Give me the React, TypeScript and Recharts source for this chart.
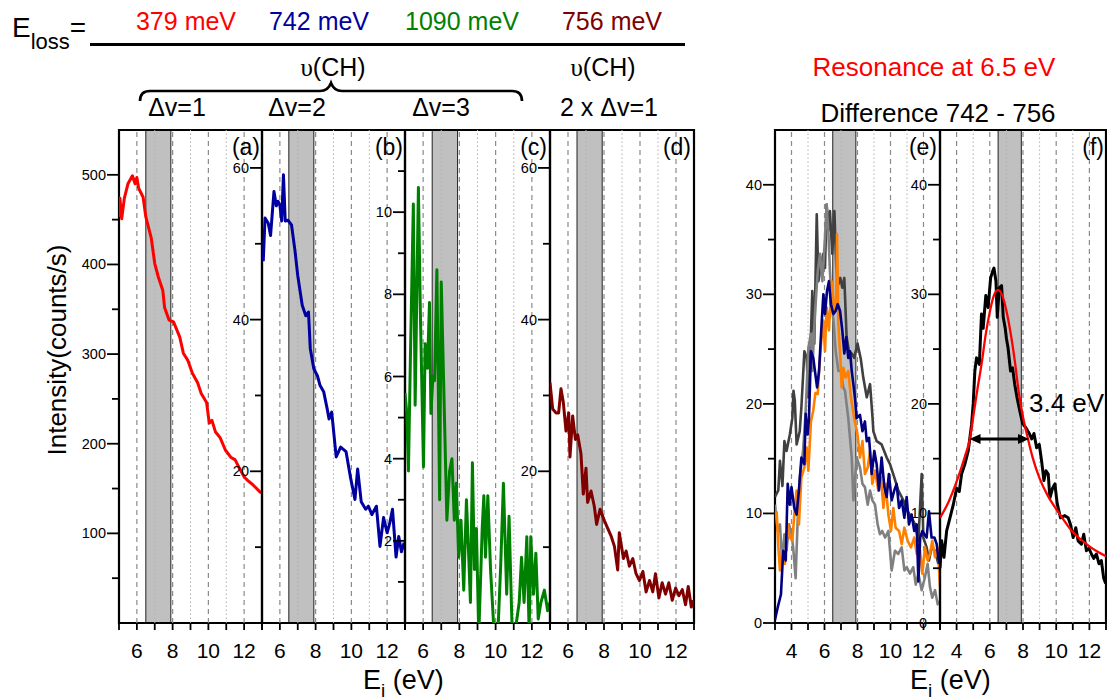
import React from 'react'
import { LineChart, Line, XAxis, YAxis, ReferenceArea, ReferenceLine } from 'recharts'

type Pt = [number, number]

// incident energy (eV), intensity (counts/s)
const SPEC_379: Pt[] = [
  [5.0, 453], [5.05, 474], [5.15, 451], [5.3, 474], [5.5, 490], [5.75, 499], [5.9, 490], [6.0, 497],
  [6.1, 485], [6.35, 475], [6.5, 453], [6.8, 430], [7.0, 401], [7.2, 386], [7.45, 371], [7.55, 352],
  [7.8, 338], [8.05, 336], [8.4, 319], [8.6, 301], [8.85, 293], [9.1, 279], [9.4, 268], [9.6, 256],
  [9.9, 246], [10.05, 223], [10.2, 226], [10.4, 213], [10.65, 207], [10.95, 193], [11.25, 185],
  [11.5, 182], [11.7, 174], [12.0, 163], [12.2, 159], [12.5, 154], [12.9, 146], [13.0, 145],
]

const SPEC_742: Pt[] = [
  [5.07, 47.7], [5.17, 53.4], [5.35, 52.7], [5.48, 51.1], [5.67, 56.9], [5.8, 55.0], [5.9, 55.6],
  [6.0, 55.1], [6.1, 53.0], [6.2, 59.1], [6.3, 53.0], [6.45, 53.1], [6.65, 52.5], [6.85, 49.0],
  [7.0, 45.8], [7.25, 41.9], [7.45, 40.5], [7.6, 41.0], [7.7, 36.2], [7.9, 33.5], [8.1, 32.6],
  [8.25, 31.3], [8.45, 30.5], [8.65, 28.2], [8.75, 26.9], [8.9, 27.8], [9.15, 21.9], [9.4, 23.2],
  [9.7, 22.6], [9.95, 19.2], [10.2, 16.3], [10.35, 20.3], [10.55, 16.0], [10.8, 15.0], [10.95, 15.4],
  [11.15, 14.3], [11.4, 15.4], [11.6, 10.1], [11.8, 13.9], [12.0, 11.9], [12.15, 13.2], [12.3, 15.0],
  [12.5, 8.7], [12.65, 11.4], [12.8, 9.4], [12.95, 10.6],
]

const SPEC_1090: Pt[] = [
  [5.0, 5.6], [5.1, 5.1], [5.19, 3.7], [5.3, 6.5], [5.46, 10.2], [5.56, 5.3], [5.74, 10.6], [5.85, 7.5],
  [6.02, 3.8], [6.11, 6.8], [6.24, 6.2], [6.35, 7.8], [6.43, 5.1], [6.54, 6.0], [6.63, 5.9], [6.76, 8.6],
  [6.91, 3.0], [7.0, 8.3], [7.13, 5.9], [7.31, 2.5], [7.46, 3.7], [7.59, 4.0], [7.72, 2.5], [7.83, 3.4],
  [7.96, 1.6], [8.09, 2.5], [8.24, 0.8], [8.39, 3.0], [8.5, 1.8], [8.61, 0.5], [8.72, 3.9], [8.83, 1.3],
  [8.94, 2.3], [9.07, -0.3], [9.26, 2.3], [9.35, 3.1], [9.44, 1.6], [9.57, 3.1], [9.72, 1.3], [9.91, -0.2],
  [10.1, -0.5], [10.28, 1.4], [10.43, 3.4], [10.61, 0.7], [10.74, 2.6], [10.93, -0.5], [11.11, -0.1],
  [11.3, 0.5], [11.43, 1.6], [11.57, 0.5], [11.72, 2.1], [11.85, -0.2], [11.94, 2.1], [12.09, 0.7],
  [12.22, 1.7], [12.35, 0.1], [12.5, 0.5], [12.69, 0.8], [12.87, 0.3], [13.0, 0.5],
]

const SPEC_756: Pt[] = [
  [5.0, 31.7], [5.15, 28.2], [5.34, 27.7], [5.48, 27.7], [5.61, 30.9], [5.74, 29.1], [5.89, 25.3],
  [6.04, 27.7], [6.11, 21.9], [6.26, 27.3], [6.41, 24.2], [6.54, 24.8], [6.72, 22.3], [6.85, 17.0],
  [7.0, 20.4], [7.09, 15.9], [7.28, 17.4], [7.46, 15.4], [7.59, 13.0], [7.78, 15.0], [8.02, 13.5],
  [8.2, 12.5], [8.39, 11.5], [8.58, 10.1], [8.76, 7.0], [8.85, 11.9], [9.08, 8.5], [9.23, 9.5],
  [9.41, 7.5], [9.6, 8.5], [9.78, 6.5], [9.97, 5.6], [10.16, 6.8], [10.34, 4.1], [10.53, 5.6],
  [10.71, 4.1], [10.86, 6.5], [11.05, 3.3], [11.23, 5.3], [11.42, 3.8], [11.6, 5.3], [11.79, 3.0],
  [11.98, 4.6], [12.16, 3.6], [12.35, 4.4], [12.53, 2.4], [12.68, 4.8], [12.85, 2.1], [12.95, 3.0],
]

// panel (e): differences 742 - 756 from several runs
const DIFF_DARK: Pt[] = [
  [3.0, 11.5], [3.2, 12.1], [3.3, 14.8], [3.45, 12.5], [3.57, 16.6], [3.7, 15.7], [3.9, 17.2], [4.05, 18.7],
  [4.12, 21.2], [4.2, 20.3], [4.31, 16.3], [4.5, 17.5], [4.6, 19.7], [4.78, 24.8], [4.92, 24.2], [5.02, 20.6],
  [5.1, 22.5], [5.26, 30.3], [5.38, 25.5], [5.53, 37.3], [5.63, 31.2], [5.79, 32.7], [5.93, 33.7], [6.03, 32.4],
  [6.13, 38.2], [6.23, 35.8], [6.33, 37.6], [6.47, 33.7], [6.6, 37.6], [6.72, 32.1], [6.84, 30.9], [6.96, 31.5],
  [7.08, 30.6], [7.2, 31.5], [7.34, 26.1], [7.48, 24.8], [7.65, 24.6], [7.8, 24.2], [8.0, 25.5], [8.2, 24.1],
  [8.35, 22.4], [8.56, 20.6], [8.76, 21.8], [8.9, 19.0], [8.96, 17.5], [9.16, 16.6], [9.46, 16.3], [9.77, 15.1],
  [9.97, 14.5], [10.23, 13.3], [10.47, 12.1], [10.78, 11.2], [11.04, 10.2], [11.28, 9.6], [11.49, 9.0],
  [11.69, 7.5], [11.89, 13.6], [11.99, 7.8], [12.19, 6.9], [12.33, 5.7], [12.49, 6.9], [12.7, 6.6], [12.9, 5.4],
]

const DIFF_GRAY: Pt[] = [
  [3.0, 10.8], [3.16, 8.4], [3.3, 9.0], [3.44, 5.4], [3.57, 8.1], [3.7, 6.6], [3.85, 9.0], [4.0, 8.1],
  [4.1, 6.9], [4.25, 4.1], [4.37, 9.3], [4.5, 13.3], [4.7, 15.7], [4.86, 19.4], [5.02, 25.1], [5.18, 26.4],
  [5.26, 23.0], [5.42, 28.2], [5.59, 32.1], [5.73, 33.7], [5.87, 31.2], [6.03, 35.2], [6.13, 38.2], [6.23, 35.8],
  [6.33, 32.1], [6.43, 29.1], [6.56, 27.3], [6.68, 24.8], [6.84, 23.0], [7.0, 23.0], [7.14, 21.5], [7.24, 21.2],
  [7.44, 18.7], [7.65, 15.1], [7.75, 11.2], [7.95, 15.1], [8.15, 14.2], [8.3, 12.7], [8.45, 12.4], [8.62, 10.8],
  [8.76, 12.1], [8.9, 11.2], [9.06, 10.8], [9.22, 9.0], [9.36, 8.1], [9.5, 8.4], [9.67, 7.8], [9.87, 8.4],
  [10.07, 4.8], [10.27, 6.6], [10.47, 6.3], [10.68, 6.9], [10.84, 4.8], [10.98, 5.1], [11.18, 4.5], [11.38, 5.1],
  [11.53, 3.5], [11.69, 4.5], [11.89, 3.0], [12.09, 4.2], [12.25, 5.4], [12.39, 3.3], [12.53, 2.3], [12.7, 3.0],
  [12.86, 1.7], [13.0, 2.0],
]

const DIFF_ORANGE: Pt[] = [
  [3.1, 10.2], [3.2, 7.0], [3.3, 4.8], [3.44, 6.6], [3.6, 5.4], [3.77, 9.0], [3.9, 7.8], [4.05, 7.5],
  [4.17, 9.9], [4.31, 12.1], [4.45, 9.0], [4.6, 13.3], [4.78, 14.2], [4.92, 16.0], [5.02, 13.9], [5.18, 18.4],
  [5.32, 19.4], [5.45, 21.0], [5.59, 20.9], [5.67, 23.0], [5.79, 25.5], [5.93, 27.6], [6.03, 24.8], [6.13, 28.8],
  [6.27, 26.7], [6.43, 31.2], [6.6, 28.5], [6.7, 29.1], [6.76, 35.5], [6.84, 27.3], [6.96, 24.2], [7.04, 21.5],
  [7.14, 23.3], [7.28, 22.4], [7.44, 23.0], [7.6, 20.6], [7.8, 18.7], [8.0, 17.2], [8.15, 15.1], [8.3, 16.6],
  [8.45, 13.6], [8.62, 14.2], [8.76, 15.7], [8.9, 12.7], [9.06, 13.9], [9.26, 12.1], [9.42, 13.3], [9.57, 10.5],
  [9.7, 12.7], [9.87, 9.9], [10.03, 8.4], [10.17, 10.5], [10.31, 8.7], [10.52, 8.4], [10.68, 7.2], [10.84, 8.7],
  [11.04, 7.5], [11.24, 6.9], [11.44, 7.8], [11.59, 6.3], [11.79, 6.6], [11.93, 4.5], [12.09, 6.9], [12.25, 5.7],
  [12.39, 6.3], [12.53, 7.5], [12.7, 6.0], [12.86, 6.9], [13.0, 3.3],
]

const DIFF_NAVY: Pt[] = [
  [3.0, 0.3], [3.16, 1.4], [3.36, 2.6], [3.5, 6.6], [3.65, 5.7], [3.77, 12.7], [3.9, 10.8], [4.0, 12.4],
  [4.17, 10.5], [4.31, 9.9], [4.45, 12.1], [4.6, 15.1], [4.78, 14.5], [4.86, 19.1], [4.98, 17.2], [5.06, 18.7],
  [5.18, 24.8], [5.32, 24.2], [5.42, 23.0], [5.55, 21.5], [5.67, 23.0], [5.79, 26.4], [5.93, 30.0], [6.03, 28.2],
  [6.15, 30.3], [6.27, 31.2], [6.39, 29.1], [6.54, 28.2], [6.68, 28.5], [6.8, 29.1], [6.94, 28.5], [7.08, 26.7],
  [7.2, 24.6], [7.32, 26.1], [7.44, 24.2], [7.55, 24.8], [7.65, 23.0], [7.75, 21.8], [7.85, 20.5], [7.95, 18.7],
  [8.15, 19.0], [8.3, 17.5], [8.45, 18.4], [8.56, 16.6], [8.7, 16.9], [8.86, 13.6], [9.02, 15.7], [9.16, 14.5],
  [9.3, 12.1], [9.46, 15.1], [9.63, 12.4], [9.77, 11.5], [9.9, 13.6], [10.07, 11.2], [10.23, 12.1], [10.37, 12.7],
  [10.52, 10.5], [10.68, 11.2], [10.84, 9.6], [10.98, 11.5], [11.12, 9.0], [11.28, 9.9], [11.44, 8.4], [11.59, 9.0],
  [11.69, 3.8], [11.8, 7.8], [11.93, 8.4], [12.05, 8.1], [12.19, 7.8], [12.33, 10.2], [12.49, 7.8], [12.66, 7.8],
  [12.8, 7.2], [12.94, 5.4],
]

// panel (f): averaged difference and its fit
const DIFF_MEAN: Pt[] = [
  [3.0, 5.0], [3.1, 7.5], [3.24, 6.0], [3.4, 8.4], [3.6, 9.6], [3.8, 10.8], [4.0, 12.3], [4.16, 12.0],
  [4.3, 13.6], [4.5, 14.5], [4.7, 15.7], [4.9, 18.1], [5.0, 20.0], [5.1, 23.0], [5.2, 24.2], [5.37, 23.6],
  [5.5, 28.2], [5.6, 26.9], [5.76, 29.9], [5.9, 28.8], [6.05, 31.5], [6.17, 32.1], [6.25, 32.4], [6.37, 31.2],
  [6.45, 27.9], [6.57, 30.6], [6.71, 30.8], [6.81, 27.9], [6.93, 26.9], [7.0, 26.0], [7.1, 25.1], [7.25, 23.0],
  [7.37, 23.3], [7.5, 21.8], [7.65, 20.5], [7.8, 19.4], [7.98, 18.2], [8.18, 17.8], [8.38, 17.3], [8.52, 16.8],
  [8.66, 17.3], [8.82, 16.0], [8.98, 16.3], [9.12, 14.8], [9.26, 13.0], [9.38, 13.9], [9.52, 13.6], [9.62, 11.4],
  [9.78, 12.3], [9.92, 12.7], [10.06, 10.9], [10.26, 9.6], [10.52, 9.8], [10.72, 9.6], [10.86, 9.0], [11.02, 7.8],
  [11.18, 8.7], [11.32, 7.5], [11.52, 7.2], [11.66, 8.1], [11.82, 6.6], [11.98, 6.8], [12.12, 6.3], [12.26, 5.9],
  [12.42, 6.3], [12.58, 5.4], [12.72, 5.7], [12.86, 4.1], [12.98, 3.6],
]

const FIT_MEAN: Pt[] = [
  [3.0, 9.6], [3.5, 11.0], [4.0, 12.9], [4.5, 15.2], [4.8, 16.8], [5.0, 18.8], [5.25, 21.3], [5.5, 23.6],
  [5.75, 26.3], [6.0, 28.4], [6.25, 29.9], [6.5, 30.4], [6.75, 29.9], [7.0, 28.5], [7.25, 26.5], [7.5, 24.0],
  [7.75, 21.0], [8.0, 18.8], [8.3, 16.8], [8.6, 15.0], [9.0, 13.2], [9.5, 11.6], [10.0, 10.4], [10.5, 9.3],
  [11.0, 8.3], [11.5, 7.6], [12.0, 7.0], [12.5, 6.5], [13.0, 6.1],
]

const FWHM: Pt[] = [[4.78, 16.8], [8.36, 16.8]]
const RESONANCE_BAND = [6.5, 7.9]

const X_TICKS_AD = [5, 6, 7, 8, 9, 10, 11, 12, 13]
const X_LABELS_AD = [6, 8, 10, 12]
const X_TICKS_EF = [3, 4, 5, 6, 7, 8, 9, 10, 11, 12, 13]
const X_LABELS_EF = [4, 6, 8, 10, 12]
const DASHED_AD = [6, 8, 10, 12]
const DOTTED_AD = [7, 9, 11]
const DASHED_EF = [4, 6, 8, 10, 12]
const DOTTED_EF = [5, 7, 9, 11]

const FONT = 'Arial, "Liberation Sans", sans-serif'
const PLOT_TOP = 130
const PLOT_H = 493

function xTick(labels: number[]) {
  return (p: any) => {
    const v = p.payload.value
    return (
      <g>
        <line x1={p.x} x2={p.x} y1={p.y} y2={p.y + 7} stroke="#000" strokeWidth={1.8} />
        {labels.includes(v) && (
          <text x={p.x} y={p.y + 35} textAnchor="middle" fontSize={21} fontFamily={FONT} fill="#000">{v}</text>
        )}
      </g>
    )
  }
}

function yTick(labels: number[]) {
  return (p: any) => {
    const v = p.payload.value
    const major = labels.includes(v)
    const len = major ? 12 : 7
    return (
      <g>
        <line x1={p.x - len} x2={p.x} y1={p.y} y2={p.y} stroke="#000" strokeWidth={1.8} />
        {major && (
          <text x={p.x - len - 1} y={p.y + 5} textAnchor="end" fontSize={14.5} fontFamily={FONT} fill="#000">{v}</text>
        )}
      </g>
    )
  }
}

const rightTick = (p: any) => (
  <line x1={p.x - 5} x2={p.x} y1={p.y} y2={p.y} stroke="#000" strokeWidth={1.5} />
)

const ArrowShape = (p: any) => {
  const { x1, y1, x2, y2 } = p
  const h = 11
  const w = 5
  return (
    <g>
      <line x1={x1 + h - 2} y1={y1} x2={x2 - h + 2} y2={y2} stroke="#000" strokeWidth={3} />
      <polygon points={`${x1},${y1} ${x1 + h},${y1 - w} ${x1 + h},${y1 + w}`} fill="#000" />
      <polygon points={`${x2},${y2} ${x2 - h},${y2 - w} ${x2 - h},${y2 + w}`} fill="#000" />
    </g>
  )
}

interface Series {
  name: string
  data: Pt[]
  color: string
  width?: number
  smooth?: boolean
}

interface PanelProps {
  left: number
  width: number
  xDomain: [number, number]
  yDomain: [number, number]
  xTicks: number[]
  xLabels: number[]
  dashed: number[]
  dotted: number[]
  yLabels: number[]
  yMinor: number[]
  rightTicks?: number[]
  series: Series[]
  arrow?: Pt[]
}

function Panel(p: PanelProps) {
  const YW = 50
  const TOP = 10
  const RP = 10
  const XH = 45
  const [x0, x1] = p.xDomain
  const [y0, y1] = p.yDomain
  return (
    <div style={{ position: 'absolute', left: p.left - YW, top: PLOT_TOP - TOP }}>
      <LineChart width={YW + p.width + RP} height={TOP + PLOT_H + XH} margin={{ top: TOP, right: RP, bottom: 0, left: 0 }}>
        <XAxis
          type="number"
          dataKey="e"
          domain={p.xDomain}
          allowDataOverflow
          ticks={p.xTicks}
          interval={0}
          tickSize={0}
          tickMargin={0}
          axisLine={false}
          tickLine={false}
          tick={xTick(p.xLabels)}
          height={XH}
        />
        <YAxis
          type="number"
          domain={p.yDomain}
          allowDataOverflow
          ticks={[...p.yLabels, ...p.yMinor]}
          interval={0}
          tickSize={0}
          tickMargin={0}
          axisLine={false}
          tickLine={false}
          tick={yTick(p.yLabels)}
          width={YW}
        />
        {p.rightTicks && (
          <YAxis
            yAxisId="r"
            orientation="right"
            type="number"
            domain={p.yDomain}
            allowDataOverflow
            ticks={p.rightTicks}
            interval={0}
            tickSize={0}
            tickMargin={0}
            axisLine={false}
            tickLine={false}
            tick={rightTick}
            width={0}
          />
        )}
        {p.dotted.map((v) => (
          <ReferenceLine key={'o' + v} x={v} stroke="#b0b0b0" strokeDasharray="1.5 2.5" strokeWidth={1} />
        ))}
        {p.dashed.map((v) => (
          <ReferenceLine key={'d' + v} x={v} stroke="#8a8a8a" strokeDasharray="5 4" strokeWidth={1.2} />
        ))}
        <ReferenceArea
          x1={RESONANCE_BAND[0]}
          x2={RESONANCE_BAND[1]}
          y1={y0}
          y2={y1}
          fill="#c0c0c0"
          fillOpacity={1}
          stroke="#222"
          strokeWidth={1}
        />
        {p.series.map((s) => (
          <Line
            key={s.name}
            name={s.name}
            data={s.data.map(([e, v]) => ({ e, v }))}
            dataKey="v"
            type={s.smooth ? 'monotone' : 'linear'}
            stroke={s.color}
            strokeWidth={s.width ?? 3}
            strokeLinejoin="round"
            dot={false}
            activeDot={false}
            isAnimationActive={false}
          />
        ))}
        {p.arrow && (
          <ReferenceLine
            segment={p.arrow.map(([x, y]) => ({ x, y }))}
            shape={ArrowShape}
          />
        )}
        <ReferenceArea x1={x0} x2={x1} y1={y0} y2={y1} fill="none" stroke="#000" strokeWidth={2.2} />
      </LineChart>
    </div>
  )
}

const Txt = ({ x, y, size, color = '#000', anchor = 'left', family = FONT, children }: any) => (
  <div
    style={{
      position: 'absolute',
      left: x,
      top: y,
      fontSize: size,
      color,
      fontFamily: family,
      lineHeight: 1,
      whiteSpace: 'nowrap',
      transform: anchor === 'center' ? 'translateX(-50%)' : anchor === 'right' ? 'translateX(-100%)' : undefined,
    }}
  >
    {children}
  </div>
)

const Upsilon = () => <span style={{ fontFamily: '"Liberation Serif", "DejaVu Serif", serif' }}>υ</span>

export default function App() {
  const common = { yDomain: [0, 65] as [number, number], yLabels: [20, 40, 60], yMinor: [10, 30, 50] }
  const ad = { xDomain: [5, 13] as [number, number], xTicks: X_TICKS_AD, xLabels: X_LABELS_AD, dashed: DASHED_AD, dotted: DOTTED_AD }
  const ef = {
    xDomain: [3, 13] as [number, number],
    xTicks: X_TICKS_EF,
    xLabels: X_LABELS_EF,
    dashed: DASHED_EF,
    dotted: DOTTED_EF,
    yDomain: [0, 45] as [number, number],
    yLabels: [0, 10, 20, 30, 40],
    yMinor: [5, 15, 25, 35],
  }
  return (
    <div style={{ position: 'absolute', left: 0, top: 0, width: 1107, height: 700, overflow: 'hidden', background: '#fff', fontFamily: FONT }}>
      <Panel left={119} width={143} {...ad} yDomain={[0, 550]} yLabels={[100, 200, 300, 400, 500]} yMinor={[50, 150, 250, 350, 450]}
        series={[{ name: '379', data: SPEC_379, color: '#ff0000' }]} />
      <Panel left={262} width={143} {...ad} {...common} series={[{ name: '742', data: SPEC_742, color: '#0000a0' }]} />
      <Panel left={405} width={145} {...ad} yDomain={[0, 12]} yLabels={[2, 4, 6, 8, 10]} yMinor={[1, 3, 5, 7, 9, 11]}
        series={[{ name: '1090', data: SPEC_1090, color: '#008000' }]} />
      <Panel left={550} width={144} {...ad} {...common} rightTicks={[10, 20, 30, 40, 50, 60]}
        series={[{ name: '756', data: SPEC_756, color: '#800000' }]} />
      <Panel left={775} width={165} {...ef}
        series={[
          { name: 'dark', data: DIFF_DARK, color: '#404040', width: 2.6 },
          { name: 'gray', data: DIFF_GRAY, color: '#808080', width: 2.6 },
          { name: 'orange', data: DIFF_ORANGE, color: '#ff8000', width: 2.6 },
          { name: 'navy', data: DIFF_NAVY, color: '#000080', width: 2.6 },
        ]} />
      <Panel left={940} width={166} {...ef} rightTicks={[5, 10, 15, 20, 25, 30, 35, 40]} arrow={FWHM}
        series={[
          { name: 'mean', data: DIFF_MEAN, color: '#000000', width: 3 },
          { name: 'fit', data: FIT_MEAN, color: '#ff0000', width: 2.3, smooth: true },
        ]} />

      {/* header */}
      <Txt x={12} y={14} size={28}>
        E<span style={{ fontSize: 22, position: 'relative', top: 12 }}>loss</span>=
      </Txt>
      <Txt x={186} y={9} size={25} color="#ff0000" anchor="center">379 meV</Txt>
      <Txt x={319} y={9} size={25} color="#0000a0" anchor="center">742 meV</Txt>
      <Txt x={462} y={9} size={25} color="#008000" anchor="center">1090 meV</Txt>
      <Txt x={612} y={9} size={25} color="#800000" anchor="center">756 meV</Txt>
      <div style={{ position: 'absolute', left: 90, top: 43, width: 595, height: 2.5, background: '#000' }} />
      <Txt x={333} y={55} size={25} anchor="center"><Upsilon />(CH)</Txt>
      <Txt x={603} y={55} size={25} anchor="center"><Upsilon />(CH)</Txt>
      <svg style={{ position: 'absolute', left: 0, top: 0 }} width={1107} height={130}>
        <path d="M 140 101 Q 140 91 150 91 L 320 91 Q 328 91 331 83 Q 334 91 342 91 L 512 91 Q 522 91 522 101"
          fill="none" stroke="#000" strokeWidth={2.7} />
      </svg>
      <Txt x={177} y={95} size={25} anchor="center">Δv=1</Txt>
      <Txt x={297} y={95} size={25} anchor="center">Δv=2</Txt>
      <Txt x={441} y={95} size={25} anchor="center">Δv=3</Txt>
      <Txt x={609} y={95} size={25} anchor="center">2 x Δv=1</Txt>
      <Txt x={934} y={54} size={26} color="#ff0000" anchor="center">Resonance at 6.5 eV</Txt>
      <Txt x={938} y={100} size={26} anchor="center">Difference 742 - 756</Txt>

      {/* panel tags */}
      <Txt x={260} y={136} size={23} anchor="right">(a)</Txt>
      <Txt x={403} y={136} size={23} anchor="right">(b)</Txt>
      <Txt x={547} y={136} size={23} anchor="right">(c)</Txt>
      <Txt x={691} y={136} size={23} anchor="right">(d)</Txt>
      <Txt x={937} y={136} size={23} anchor="right">(e)</Txt>
      <Txt x={1104} y={136} size={23} anchor="right">(f)</Txt>
      <Txt x={1029} y={390} size={26}>3.4 eV</Txt>

      {/* axis titles */}
      <Txt x={363} y={667} size={27}>
        E<span style={{ fontSize: 19, position: 'relative', top: 8 }}>i</span> (eV)
      </Txt>
      <Txt x={910} y={667} size={27}>
        E<span style={{ fontSize: 19, position: 'relative', top: 8 }}>i</span> (eV)
      </Txt>
      <div
        style={{
          position: 'absolute',
          left: 57,
          top: 350,
          fontSize: 26,
          lineHeight: 1,
          whiteSpace: 'nowrap',
          transform: 'translate(-50%, -50%) rotate(-90deg)',
        }}
      >
        Intensity(counts/s)
      </div>
    </div>
  )
}
